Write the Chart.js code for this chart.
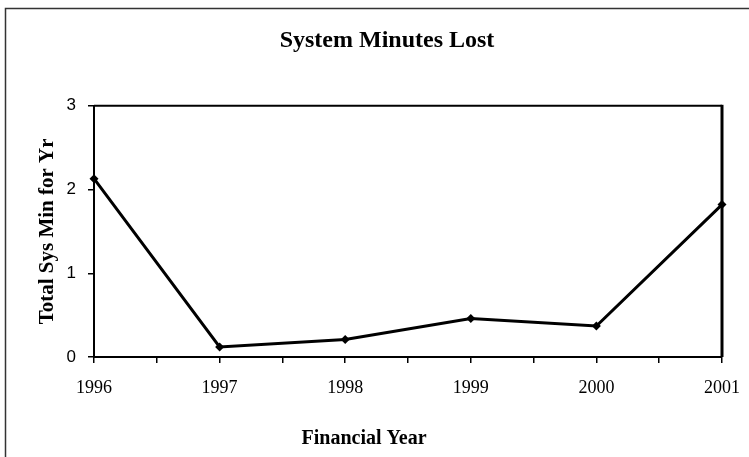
<!DOCTYPE html>
<html>
<head>
<meta charset="utf-8">
<script src="https://cdn.jsdelivr.net/npm/chart.js@4/dist/chart.umd.min.js"></script>
<style>
  html, body { margin: 0; padding: 0; background: #fff; }
  #wrap { width: 749px; height: 457px; position: relative; }
</style>
</head>
<body>
<div id="wrap"><canvas id="chart"></canvas></div>
<script>
// financial years and total system minutes lost in each
const years = [1996, 1997, 1998, 1999, 2000, 2001];
const sysMinutes = [2.13, 0.12, 0.21, 0.46, 0.37, 1.82];
const yTicks = [0, 1, 2, 3];
const xTitle = 'Financial Year';

const SERIF = '"Liberation Serif", "Times New Roman", serif';
const SANS = '"Liberation Sans", Arial, sans-serif';

// outer frame of the figure (only top and left edges show) + the box round the plot
const framePlugin = {
  id: 'frame',
  beforeDraw(chart) {
    const ctx = chart.ctx;
    ctx.save();
    ctx.fillStyle = '#fff';
    ctx.fillRect(0, 0, chart.width, chart.height);
    ctx.strokeStyle = '#333';
    ctx.lineWidth = 1.5;
    ctx.beginPath();
    ctx.moveTo(5.5, chart.height);
    ctx.lineTo(5.5, 8.5);
    ctx.lineTo(chart.width, 8.5);
    ctx.stroke();
    ctx.restore();
  },
  afterDatasetsDraw(chart) {
    const { ctx, chartArea: a } = chart;
    ctx.save();
    ctx.strokeStyle = '#000';
    ctx.lineWidth = 2;
    ctx.beginPath();
    ctx.moveTo(a.left, a.top);
    ctx.lineTo(a.right, a.top);
    ctx.stroke();
    ctx.lineWidth = 3;
    ctx.beginPath();
    ctx.moveTo(a.right, a.top - 1);
    ctx.lineTo(a.right, a.bottom);
    ctx.stroke();
    ctx.restore();
  },
  // x axis title sits left of the plot centre, so it is drawn by hand
  afterDraw(chart) {
    const { ctx, chartArea: a } = chart;
    ctx.save();
    ctx.fillStyle = '#000';
    ctx.font = 'bold 20px ' + SERIF;
    ctx.textAlign = 'center';
    ctx.textBaseline = 'middle';
    ctx.fillText(xTitle, a.left + (a.right - a.left) * 0.43, chart.height - 18);
    ctx.restore();
  }
};

new Chart(document.getElementById('chart'), {
  type: 'line',
  data: {
    datasets: [{
      label: 'Total Sys Min for Yr',
      data: years.map((y, i) => ({ x: y, y: sysMinutes[i] })),
      borderColor: '#000',
      backgroundColor: '#000',
      borderWidth: 3,
      pointStyle: 'rectRot',
      pointRadius: 4.5,
      pointBorderWidth: 0,
      tension: 0,
      clip: false
    }]
  },
  options: {
    responsive: true,
    maintainAspectRatio: false,
    animation: false,
    // left padding pushes the title centre right; x axis keeps 27px on the right
    layout: { padding: { left: 25, right: 0, top: 0, bottom: 0 } },
    plugins: {
      legend: { display: false },
      tooltip: { enabled: false },
      title: {
        display: true,
        text: 'System Minutes Lost',
        color: '#000',
        font: { family: SERIF, size: 24, weight: 'bold' },
        padding: { top: 26, bottom: 51 }
      }
    },
    scales: {
      x: {
        type: 'linear',
        min: years[0],
        max: years[years.length - 1],
        afterBuildTicks(scale) {
          // labelled ticks at each year, unlabelled ones half way between
          const t = [];
          for (let v = years[0]; v <= years[years.length - 1]; v += 0.5) t.push({ value: v });
          scale.ticks = t;
        },
        afterFit(scale) {
          scale.height = 100;
          scale.paddingRight = 27;
        },
        border: { display: true, color: '#000', width: 2 },
        grid: { drawOnChartArea: false, drawTicks: true, tickLength: 6, color: '#000', lineWidth: 1.5 },
        ticks: {
          color: '#000',
          padding: 14,
          maxRotation: 0,
          autoSkip: false,
          font: { family: SERIF, size: 18 },
          callback: v => (Number.isInteger(v) ? String(v) : '')
        },
        title: { display: false }
      },
      y: {
        min: 0,
        max: 3,
        afterBuildTicks(scale) { scale.ticks = yTicks.map(v => ({ value: v })); },
        afterFit(scale) { scale.width = 69; },
        border: { display: true, color: '#000', width: 2 },
        grid: { drawOnChartArea: false, drawTicks: true, tickLength: 6, color: '#000', lineWidth: 1.5 },
        ticks: {
          color: '#000',
          padding: 12,
          font: { family: SANS, size: 17 }
        },
        title: {
          display: true,
          text: 'Total Sys Min for Yr',
          color: '#000',
          font: { family: SERIF, size: 21, weight: 'bold' },
          padding: { top: 10 }
        }
      }
    }
  },
  plugins: [framePlugin]
});
</script>
</body>
</html>
